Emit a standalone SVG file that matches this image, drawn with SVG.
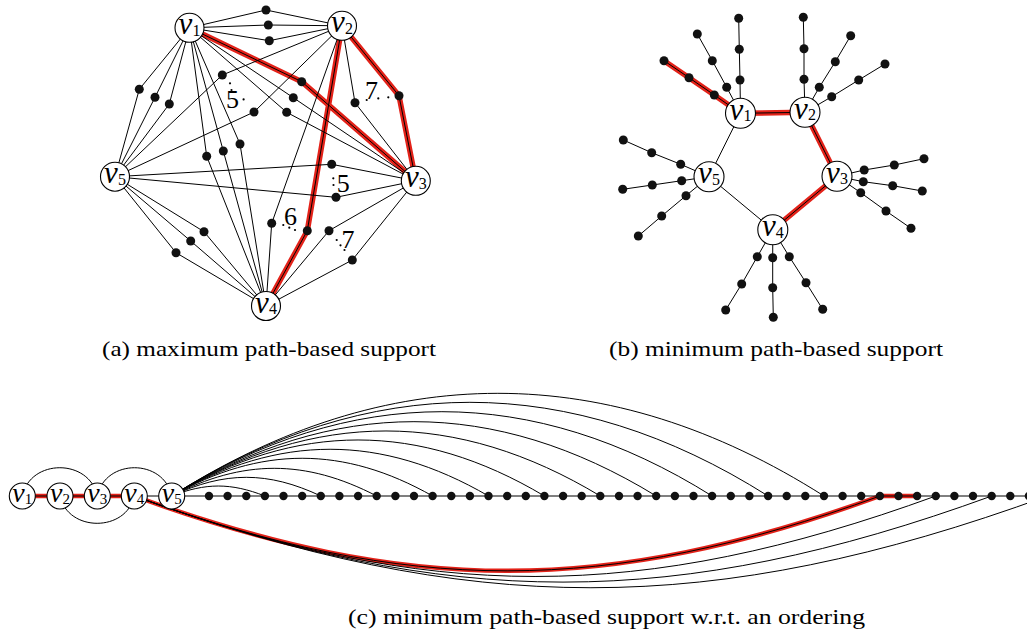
<svg xmlns="http://www.w3.org/2000/svg" width="1027" height="632" viewBox="0 0 1027 632">
<style>
.e{fill:none;stroke:#000;stroke-width:1}
.hl{fill:none;stroke:#e32219;stroke-width:5.5;stroke-linejoin:round}
.hlc{fill:none;stroke:#e32219;stroke-width:4.5;stroke-linejoin:round}
.n circle{fill:#fff;stroke:#000;stroke-width:1.1}
.d circle{fill:#111}
.el{fill:#000}
.lab{font-family:"Liberation Serif","Times New Roman",Times,serif;font-style:italic;font-size:31px;text-anchor:middle;fill:#000}
.labc{font-family:"Liberation Serif","Times New Roman",Times,serif;font-style:italic;font-size:28px;text-anchor:middle;fill:#000}
.sub{font-style:normal;font-size:16px}
.subc{font-style:normal;font-size:15px}
.num{font-family:"Liberation Serif","Times New Roman",Times,serif;font-size:26px;text-anchor:middle;fill:#000}
.cap{font-family:"Liberation Serif","Times New Roman",Times,serif;font-size:22px;fill:#000}
</style>
<rect width="1027" height="632" fill="#fff"/>
<g id="connectors">
<g id="conn-a">
<path class="hl" d="M189.5,27.8L301.7,81.7L415.8,180.8M342,25.8L399,95.7L415.8,180.8M342,25.8L307.3,230.7L266,306"/>
<path class="e" d="M189.5,27.8L266,10L342,25.8M189.5,27.8L268.3,25L342,25.8M189.5,27.8L269.3,40.7L342,25.8M189.5,27.8L139.3,89.3L115,176.7M189.5,27.8L155,97.3L115,176.7M189.5,27.8L169.3,104L115,176.7M189.5,27.8L206.7,156.3L266,306M189.5,27.8L223.3,151L266,306M189.5,27.8L240,144L266,306M189.5,27.8L293.3,97.7L415.8,180.8M189.5,27.8L286.7,112.3L415.8,180.8M189.5,27.8L301.7,81.7L415.8,180.8M342,25.8L222.3,75L115,176.7M342,25.8L254,112L115,176.7M342,25.8L355,102.7L415.8,180.8M342,25.8L399,95.7L415.8,180.8M342,25.8L271.7,223.3L266,306M342,25.8L307.3,230.7L266,306M115,176.7L331.7,164.3L415.8,180.8M115,176.7L336,197.3L415.8,180.8M415.8,180.8L329,230.7L266,306M415.8,180.8L352.3,260L266,306M115,176.7L204,231.7L266,306M115,176.7L190.7,241L266,306M115,176.7L176,252.7L266,306"/>
</g>
<g id="conn-b">
<path class="hl" d="M740.5,113.3L805,112.3L837,176.3L772.8,229.7M740.5,113.3L714.3,95L689,77.7L664,60.7"/>
<path class="e" d="M740.5,113.3L805,112.3L837,176.3L772.8,229.7L709,176.7Z
M740.5,113.3L740,80L739.3,49.3L738.7,18.3
M740.5,113.3L726.7,87.3L712.3,60.7L697.3,34
M740.5,113.3L714.3,95L689,77.7L664,60.7
M805,112.3L804,79.3L804,48.7L803.3,17.3
M805,112.3L819.3,87.3L835.3,61.7L850.7,35.7
M805,112.3L831.7,96.7L858.7,80L885,64
M837,176.3L864.2,170L894.3,165L924,158.7
M837,176.3L863.3,181.7L892.7,185.7L922.3,191
M837,176.3L860.7,192.7L886,211L911,228.3
M772.8,229.7L757.3,256.7L741.7,284L725.7,310
M772.8,229.7L772.7,257.7L772.7,287.7L773.3,317.3
M772.8,229.7L789.3,256.7L806,282.7L822.7,309.3
M709,176.7L680.7,164.3L651.7,152.7L623.3,140
M709,176.7L681.7,180.7L652.3,185L622.7,189.3
M709,176.7L686,195.7L661.7,216L638.3,236"/>
</g>
<g id="conn-c">
<path class="hlc" d="M22.3,496H134.3M134.3,496C408.6,595.8 605.6,595.8 879.9,496M879.9,496H917.1"/>
<path class="e" d="M22.3,496H1040
M22.3,496C30.3,458.3 89.3,458.3 97.3,496
M97.3,496C105.3,458.3 163.7,458.3 171.7,496
M60,496C68,532.4 126.3,532.4 134.3,496
M171.7,496C205.7,482.7 230.9,482.7 264.9,496
M171.7,496C224.5,471.1 268,471.1 320.8,496
M171.7,496C243,459.1 305.4,459.1 376.7,496
M171.7,496C260.6,445.7 343.7,445.7 432.6,496
M171.7,496C278.9,433.7 381.3,433.7 488.5,496
M171.7,496C297,421.3 419.1,421.3 544.4,496
M171.7,496C315.4,409.3 456.6,409.3 600.3,496
M171.7,496C333.5,396.9 494.4,396.9 656.2,496
M171.7,496C351,383.6 532.8,383.6 712.1,496
M171.7,496C369,371.1 570.8,371.1 768.1,496
M171.7,496C387.3,359.1 608.4,359.1 824,496
M134.3,496C408.6,595.8 605.6,595.8 879.9,496
M134.3,496C429.2,603.3 640.9,603.3 935.8,496
M134.3,496C449.7,610.8 676.3,610.8 991.7,496
M134.3,496C470.3,618.3 711.6,618.3 1047.6,496"/>
</g>
</g>
<g id="dots-a" class="d">
<g id="a-d1"><circle cx="266" cy="10" r="4.5"/></g>
<g id="a-d2"><circle cx="268.3" cy="25" r="4.5"/></g>
<g id="a-d3"><circle cx="269.3" cy="40.7" r="4.5"/></g>
<g id="a-d4"><circle cx="139.3" cy="89.3" r="4.5"/></g>
<g id="a-d5"><circle cx="155" cy="97.3" r="4.5"/></g>
<g id="a-d6"><circle cx="169.3" cy="104" r="4.5"/></g>
<g id="a-d7"><circle cx="206.7" cy="156.3" r="4.5"/></g>
<g id="a-d8"><circle cx="223.3" cy="151" r="4.5"/></g>
<g id="a-d9"><circle cx="240" cy="144" r="4.5"/></g>
<g id="a-d10"><circle cx="301.7" cy="81.7" r="4.5"/></g>
<g id="a-d11"><circle cx="293.3" cy="97.7" r="4.5"/></g>
<g id="a-d12"><circle cx="286.7" cy="112.3" r="4.5"/></g>
<g id="a-d13"><circle cx="222.3" cy="75" r="4.5"/></g>
<g id="a-d14"><circle cx="254" cy="112" r="4.5"/></g>
<g id="a-d15"><circle cx="355" cy="102.7" r="4.5"/></g>
<g id="a-d16"><circle cx="399" cy="95.7" r="4.5"/></g>
<g id="a-d17"><circle cx="271.7" cy="223.3" r="4.5"/></g>
<g id="a-d18"><circle cx="307.3" cy="230.7" r="4.5"/></g>
<g id="a-d19"><circle cx="331.7" cy="164.3" r="4.5"/></g>
<g id="a-d20"><circle cx="336" cy="197.3" r="4.5"/></g>
<g id="a-d21"><circle cx="329" cy="230.7" r="4.5"/></g>
<g id="a-d22"><circle cx="352.3" cy="260" r="4.5"/></g>
<g id="a-d23"><circle cx="204" cy="231.7" r="4.5"/></g>
<g id="a-d24"><circle cx="190.7" cy="241" r="4.5"/></g>
<g id="a-d25"><circle cx="176" cy="252.7" r="4.5"/></g>
</g>
<g id="labels-a">
<circle class="el" cx="230" cy="83.3" r="1.1"/><circle class="el" cx="231.5" cy="90" r="1.1"/><circle class="el" cx="243.6" cy="99.4" r="1.1"/>
<text class="num" x="232.5" y="108.3">5</text>
<circle class="el" cx="366.7" cy="100" r="1.1"/><circle class="el" cx="378.3" cy="98.4" r="1.1"/><circle class="el" cx="388.3" cy="97.3" r="1.1"/>
<text class="num" x="371.5" y="98.5">7</text>
<circle class="el" cx="333.3" cy="178.3" r="1.1"/><circle class="el" cx="333.5" cy="185" r="1.1"/>
<text class="num" x="343.3" y="191.7">5</text>
<circle class="el" cx="283.3" cy="225" r="1.1"/><circle class="el" cx="289.3" cy="227.7" r="1.1"/><circle class="el" cx="295" cy="230" r="1.1"/>
<text class="num" x="290.5" y="225">6</text>
<circle class="el" cx="336.7" cy="240" r="1.1"/><circle class="el" cx="340.5" cy="245.3" r="1.1"/><circle class="el" cx="344.5" cy="250" r="1.1"/>
<text class="num" x="348" y="248.3">7</text>
</g>
<g id="a-v1" class="n"><circle cx="189.5" cy="27.8" r="14.5"/><text class="lab" x="189.5" y="34.3">v<tspan class="sub" dy="1.5">1</tspan></text></g>
<g id="a-v2" class="n"><circle cx="342" cy="25.8" r="14.5"/><text class="lab" x="342" y="32.3">v<tspan class="sub" dy="1.5">2</tspan></text></g>
<g id="a-v3" class="n"><circle cx="415.8" cy="180.8" r="14.5"/><text class="lab" x="415.8" y="187.3">v<tspan class="sub" dy="1.5">3</tspan></text></g>
<g id="a-v4" class="n"><circle cx="266" cy="306" r="14.5"/><text class="lab" x="266" y="312.5">v<tspan class="sub" dy="1.5">4</tspan></text></g>
<g id="a-v5" class="n"><circle cx="115" cy="176.7" r="14.5"/><text class="lab" x="115" y="183.2">v<tspan class="sub" dy="1.5">5</tspan></text></g>
<g id="dots-b" class="d">
<g id="b-d1"><circle cx="740" cy="80" r="4.5"/></g>
<g id="b-d2"><circle cx="739.3" cy="49.3" r="4.5"/></g>
<g id="b-d3"><circle cx="738.7" cy="18.3" r="4.5"/></g>
<g id="b-d4"><circle cx="726.7" cy="87.3" r="4.5"/></g>
<g id="b-d5"><circle cx="712.3" cy="60.7" r="4.5"/></g>
<g id="b-d6"><circle cx="697.3" cy="34" r="4.5"/></g>
<g id="b-d7"><circle cx="714.3" cy="95" r="4.5"/></g>
<g id="b-d8"><circle cx="689" cy="77.7" r="4.5"/></g>
<g id="b-d9"><circle cx="664" cy="60.7" r="4.5"/></g>
<g id="b-d10"><circle cx="804" cy="79.3" r="4.5"/></g>
<g id="b-d11"><circle cx="804" cy="48.7" r="4.5"/></g>
<g id="b-d12"><circle cx="803.3" cy="17.3" r="4.5"/></g>
<g id="b-d13"><circle cx="819.3" cy="87.3" r="4.5"/></g>
<g id="b-d14"><circle cx="835.3" cy="61.7" r="4.5"/></g>
<g id="b-d15"><circle cx="850.7" cy="35.7" r="4.5"/></g>
<g id="b-d16"><circle cx="831.7" cy="96.7" r="4.5"/></g>
<g id="b-d17"><circle cx="858.7" cy="80" r="4.5"/></g>
<g id="b-d18"><circle cx="885" cy="64" r="4.5"/></g>
<g id="b-d19"><circle cx="864.2" cy="170" r="4.5"/></g>
<g id="b-d20"><circle cx="894.3" cy="165" r="4.5"/></g>
<g id="b-d21"><circle cx="924" cy="158.7" r="4.5"/></g>
<g id="b-d22"><circle cx="863.3" cy="181.7" r="4.5"/></g>
<g id="b-d23"><circle cx="892.7" cy="185.7" r="4.5"/></g>
<g id="b-d24"><circle cx="922.3" cy="191" r="4.5"/></g>
<g id="b-d25"><circle cx="860.7" cy="192.7" r="4.5"/></g>
<g id="b-d26"><circle cx="886" cy="211" r="4.5"/></g>
<g id="b-d27"><circle cx="911" cy="228.3" r="4.5"/></g>
<g id="b-d28"><circle cx="757.3" cy="256.7" r="4.5"/></g>
<g id="b-d29"><circle cx="741.7" cy="284" r="4.5"/></g>
<g id="b-d30"><circle cx="725.7" cy="310" r="4.5"/></g>
<g id="b-d31"><circle cx="772.7" cy="257.7" r="4.5"/></g>
<g id="b-d32"><circle cx="772.7" cy="287.7" r="4.5"/></g>
<g id="b-d33"><circle cx="773.3" cy="317.3" r="4.5"/></g>
<g id="b-d34"><circle cx="789.3" cy="256.7" r="4.5"/></g>
<g id="b-d35"><circle cx="806" cy="282.7" r="4.5"/></g>
<g id="b-d36"><circle cx="822.7" cy="309.3" r="4.5"/></g>
<g id="b-d37"><circle cx="680.7" cy="164.3" r="4.5"/></g>
<g id="b-d38"><circle cx="651.7" cy="152.7" r="4.5"/></g>
<g id="b-d39"><circle cx="623.3" cy="140" r="4.5"/></g>
<g id="b-d40"><circle cx="681.7" cy="180.7" r="4.5"/></g>
<g id="b-d41"><circle cx="652.3" cy="185" r="4.5"/></g>
<g id="b-d42"><circle cx="622.7" cy="189.3" r="4.5"/></g>
<g id="b-d43"><circle cx="686" cy="195.7" r="4.5"/></g>
<g id="b-d44"><circle cx="661.7" cy="216" r="4.5"/></g>
<g id="b-d45"><circle cx="638.3" cy="236" r="4.5"/></g>
</g>
<g id="b-v1" class="n"><circle cx="740.5" cy="113.3" r="15"/><text class="lab" x="740.5" y="119.8">v<tspan class="sub" dy="1.5">1</tspan></text></g>
<g id="b-v2" class="n"><circle cx="805" cy="112.3" r="15"/><text class="lab" x="805" y="118.8">v<tspan class="sub" dy="1.5">2</tspan></text></g>
<g id="b-v3" class="n"><circle cx="837" cy="176.3" r="15"/><text class="lab" x="837" y="182.8">v<tspan class="sub" dy="1.5">3</tspan></text></g>
<g id="b-v4" class="n"><circle cx="772.8" cy="229.7" r="15"/><text class="lab" x="772.8" y="236.2">v<tspan class="sub" dy="1.5">4</tspan></text></g>
<g id="b-v5" class="n"><circle cx="709" cy="176.7" r="15"/><text class="lab" x="709" y="183.2">v<tspan class="sub" dy="1.5">5</tspan></text></g>
<g id="dots-c" class="d">
<g id="c-d0"><circle cx="209" cy="496" r="4.2"/></g>
<g id="c-d1"><circle cx="227.6" cy="496" r="4.2"/></g>
<g id="c-d2"><circle cx="246.3" cy="496" r="4.2"/></g>
<g id="c-d3"><circle cx="264.9" cy="496" r="4.2"/></g>
<g id="c-d4"><circle cx="283.5" cy="496" r="4.2"/></g>
<g id="c-d5"><circle cx="302.2" cy="496" r="4.2"/></g>
<g id="c-d6"><circle cx="320.8" cy="496" r="4.2"/></g>
<g id="c-d7"><circle cx="339.4" cy="496" r="4.2"/></g>
<g id="c-d8"><circle cx="358.1" cy="496" r="4.2"/></g>
<g id="c-d9"><circle cx="376.7" cy="496" r="4.2"/></g>
<g id="c-d10"><circle cx="395.4" cy="496" r="4.2"/></g>
<g id="c-d11"><circle cx="414" cy="496" r="4.2"/></g>
<g id="c-d12"><circle cx="432.6" cy="496" r="4.2"/></g>
<g id="c-d13"><circle cx="451.3" cy="496" r="4.2"/></g>
<g id="c-d14"><circle cx="469.9" cy="496" r="4.2"/></g>
<g id="c-d15"><circle cx="488.5" cy="496" r="4.2"/></g>
<g id="c-d16"><circle cx="507.2" cy="496" r="4.2"/></g>
<g id="c-d17"><circle cx="525.8" cy="496" r="4.2"/></g>
<g id="c-d18"><circle cx="544.4" cy="496" r="4.2"/></g>
<g id="c-d19"><circle cx="563.1" cy="496" r="4.2"/></g>
<g id="c-d20"><circle cx="581.7" cy="496" r="4.2"/></g>
<g id="c-d21"><circle cx="600.3" cy="496" r="4.2"/></g>
<g id="c-d22"><circle cx="619" cy="496" r="4.2"/></g>
<g id="c-d23"><circle cx="637.6" cy="496" r="4.2"/></g>
<g id="c-d24"><circle cx="656.2" cy="496" r="4.2"/></g>
<g id="c-d25"><circle cx="674.9" cy="496" r="4.2"/></g>
<g id="c-d26"><circle cx="693.5" cy="496" r="4.2"/></g>
<g id="c-d27"><circle cx="712.1" cy="496" r="4.2"/></g>
<g id="c-d28"><circle cx="730.8" cy="496" r="4.2"/></g>
<g id="c-d29"><circle cx="749.4" cy="496" r="4.2"/></g>
<g id="c-d30"><circle cx="768.1" cy="496" r="4.2"/></g>
<g id="c-d31"><circle cx="786.7" cy="496" r="4.2"/></g>
<g id="c-d32"><circle cx="805.3" cy="496" r="4.2"/></g>
<g id="c-d33"><circle cx="824" cy="496" r="4.2"/></g>
<g id="c-d34"><circle cx="842.6" cy="496" r="4.2"/></g>
<g id="c-d35"><circle cx="861.2" cy="496" r="4.2"/></g>
<g id="c-d36"><circle cx="879.9" cy="496" r="4.2"/></g>
<g id="c-d37"><circle cx="898.5" cy="496" r="4.2"/></g>
<g id="c-d38"><circle cx="917.1" cy="496" r="4.2"/></g>
<g id="c-d39"><circle cx="935.8" cy="496" r="4.2"/></g>
<g id="c-d40"><circle cx="954.4" cy="496" r="4.2"/></g>
<g id="c-d41"><circle cx="973" cy="496" r="4.2"/></g>
<g id="c-d42"><circle cx="991.7" cy="496" r="4.2"/></g>
<g id="c-d43"><circle cx="1010.3" cy="496" r="4.2"/></g>
<g id="c-d44"><circle cx="1028.9" cy="496" r="4.2"/></g>
</g>
<g id="c-v1" class="n"><circle cx="22.3" cy="496" r="13"/><text class="labc" x="22.3" y="502">v<tspan class="subc" dy="1.5">1</tspan></text></g>
<g id="c-v2" class="n"><circle cx="60" cy="496" r="13"/><text class="labc" x="60" y="502">v<tspan class="subc" dy="1.5">2</tspan></text></g>
<g id="c-v3" class="n"><circle cx="97.3" cy="496" r="13"/><text class="labc" x="97.3" y="502">v<tspan class="subc" dy="1.5">3</tspan></text></g>
<g id="c-v4" class="n"><circle cx="134.3" cy="496" r="13"/><text class="labc" x="134.3" y="502">v<tspan class="subc" dy="1.5">4</tspan></text></g>
<g id="c-v5" class="n"><circle cx="171.7" cy="496" r="13"/><text class="labc" x="171.7" y="502">v<tspan class="subc" dy="1.5">5</tspan></text></g>
<g id="captions">
<text class="cap" x="102" y="356" textLength="334" lengthAdjust="spacingAndGlyphs">(a) maximum path-based support</text>
<text class="cap" x="609" y="356" textLength="334" lengthAdjust="spacingAndGlyphs">(b) minimum path-based support</text>
<text class="cap" x="348" y="624" textLength="517" lengthAdjust="spacingAndGlyphs">(c) minimum path-based support w.r.t. an ordering</text>
</g>
</svg>
